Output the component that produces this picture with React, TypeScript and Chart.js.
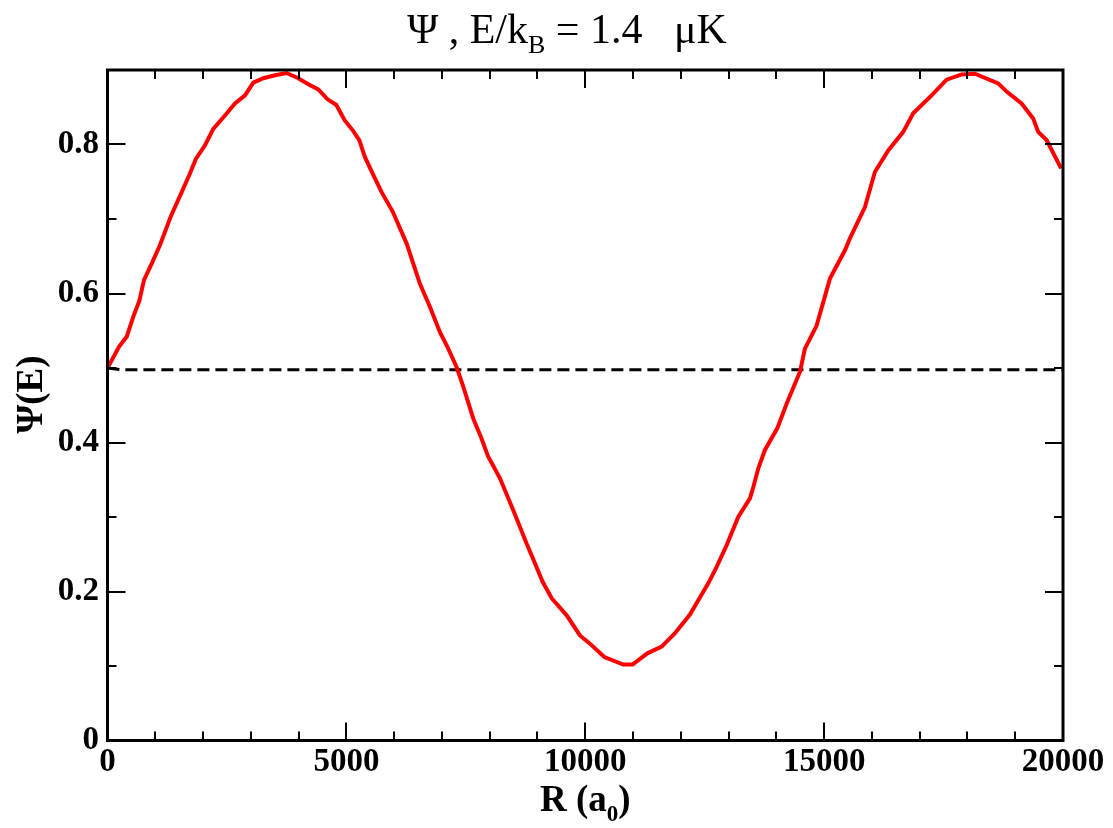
import React, { useEffect, useRef } from "react";
import { Chart, registerables } from "chart.js";

Chart.register(...registerables);

// ---- data ----
const rValues = [
  0, 247, 402, 540, 666, 764, 925, 1099, 1322, 1553, 1712, 1852, 2041, 2214, 2459, 2668, 2878,
  3052, 3261, 3506, 3750, 3993, 4203, 4412, 4600, 4790, 4960, 5145, 5270, 5389, 5550, 5738,
  5969, 6262, 6540, 6750, 6959, 7133, 7308, 7447, 7656, 7831, 7962, 8215, 8493, 8774, 8947,
  9108, 9297, 9611, 9889, 10098, 10400, 10795, 10990, 11300, 11599, 11878, 12191, 12400,
  12575, 12750, 12959, 13202, 13447, 13517, 13621, 13761, 14019, 14215, 14495, 14598, 14843,
  15122, 15436, 15540, 15854, 16063, 16342, 16656, 16865, 17250, 17564, 17878, 18156, 18644,
  18820, 19133, 19376, 19481, 19656, 19960,
];
const psiValues = [
  0.5, 0.529, 0.542, 0.569, 0.59, 0.618, 0.64, 0.665, 0.703, 0.736, 0.759, 0.781, 0.799,
  0.821, 0.839, 0.855, 0.866, 0.883, 0.889, 0.893, 0.896, 0.889, 0.881, 0.874, 0.861, 0.853,
  0.833, 0.818, 0.806, 0.783, 0.761, 0.736, 0.71, 0.667, 0.613, 0.582, 0.548, 0.526, 0.501,
  0.475, 0.432, 0.405, 0.382, 0.352, 0.309, 0.264, 0.238, 0.213, 0.191, 0.168, 0.141, 0.13,
  0.112, 0.102, 0.102, 0.117, 0.126, 0.144, 0.169, 0.192, 0.211, 0.233, 0.262, 0.3, 0.325,
  0.34, 0.365, 0.39, 0.419, 0.452, 0.495, 0.526, 0.557, 0.62, 0.658, 0.674, 0.716, 0.763,
  0.792, 0.817, 0.842, 0.866, 0.887, 0.894, 0.895, 0.882, 0.871, 0.855, 0.835, 0.817, 0.806,
  0.768,
];
const baselineR = [0, 300, 20000];
const baselinePsi = [0.5, 0.4975, 0.4975];

const xMajorTicks = [0, 5000, 10000, 15000, 20000];
const xMinorTicks = [1000, 2000, 3000, 4000, 6000, 7000, 8000, 9000, 11000, 12000, 13000, 14000, 16000, 17000, 18000, 19000];
const yMajorTicks = [0, 0.2, 0.4, 0.6, 0.8];
const yMinorTicks = [0.1, 0.3, 0.5, 0.7];

const titleMain = "Ψ , E/k";
const titleSub = "B";
const titleTail = " = 1.4   μK";
const xLabelMain = "R (a";
const xLabelSub = "0";
const xLabelTail = ")";
const yLabel = "Ψ(E)";

const FONT = '"Liberation Serif", "Times New Roman", serif';

function drawWithSub(
  ctx: CanvasRenderingContext2D,
  parts: { t: string; sub: boolean }[],
  centerX: number,
  baseY: number,
  size: number,
  weight: string,
  subDrop: number
) {
  const mainFont = `${weight} ${size}px ${FONT}`;
  const subFont = `${weight} ${Math.round(size * 0.62)}px ${FONT}`;
  let total = 0;
  const widths = parts.map((p) => {
    ctx.font = p.sub ? subFont : mainFont;
    const w = ctx.measureText(p.t).width;
    total += w;
    return w;
  });
  let x = centerX - total / 2;
  ctx.textAlign = "left";
  ctx.textBaseline = "alphabetic";
  parts.forEach((p, i) => {
    ctx.font = p.sub ? subFont : mainFont;
    ctx.fillText(p.t, x, p.sub ? baseY + subDrop : baseY);
    x += widths[i];
  });
}

const framePlugin = {
  id: "framePlugin",
  afterDraw(chart: any) {
    const { ctx, chartArea } = chart;
    const xs = chart.scales.x;
    const ys = chart.scales.y;
    const { left, right, top, bottom } = chartArea;
    ctx.save();
    ctx.strokeStyle = "#000";
    ctx.fillStyle = "#000";
    // ticks (inward, on four sides)
    ctx.lineWidth = 2;
    const xTick = (v: number, len: number) => {
      const px = Math.round(xs.getPixelForValue(v));
      ctx.beginPath();
      ctx.moveTo(px, bottom);
      ctx.lineTo(px, bottom - len);
      ctx.moveTo(px, top);
      ctx.lineTo(px, top + len);
      ctx.stroke();
    };
    const yTick = (v: number, len: number) => {
      const py = Math.round(ys.getPixelForValue(v));
      ctx.beginPath();
      ctx.moveTo(left, py);
      ctx.lineTo(left + len, py);
      ctx.moveTo(right, py);
      ctx.lineTo(right - len, py);
      ctx.stroke();
    };
    xMajorTicks.forEach((v) => xTick(v, 18));
    xMinorTicks.forEach((v) => xTick(v, 9));
    yMajorTicks.forEach((v) => yTick(v, 18));
    yMinorTicks.forEach((v) => yTick(v, 9));
    // frame
    ctx.lineWidth = 3;
    ctx.strokeRect(left, top, right - left, bottom - top);

    // title
    drawWithSub(
      ctx,
      [
        { t: titleMain, sub: false },
        { t: titleSub, sub: true },
        { t: titleTail, sub: false },
      ],
      567,
      43,
      42,
      "normal",
      10
    );
    // x axis label
    drawWithSub(
      ctx,
      [
        { t: xLabelMain, sub: false },
        { t: xLabelSub, sub: true },
        { t: xLabelTail, sub: false },
      ],
      (left + right) / 2,
      811,
      37,
      "bold",
      10
    );
    // y axis label
    ctx.save();
    ctx.translate(42, 394.5);
    ctx.rotate(-Math.PI / 2);
    ctx.font = `bold 37px ${FONT}`;
    ctx.textAlign = "center";
    ctx.textBaseline = "alphabetic";
    ctx.fillText(yLabel, 0, 0);
    ctx.restore();
    ctx.restore();
  },
};

export default function App() {
  const canvasRef = useRef<HTMLCanvasElement | null>(null);

  useEffect(() => {
    if (!canvasRef.current) return;
    Chart.defaults.font.family = FONT;
    const curve = rValues.map((r, i) => ({ x: r, y: psiValues[i] }));
    const base = baselineR.map((r, i) => ({ x: r, y: baselinePsi[i] }));
    const chart = new Chart(canvasRef.current, {
      type: "line",
      data: {
        datasets: [
          {
            label: "Psi",
            data: curve,
            borderColor: "#ff0000",
            borderWidth: 4,
            pointRadius: 0,
            tension: 0,
            fill: false,
          },
          {
            label: "baseline",
            data: base,
            borderColor: "#000000",
            borderWidth: 3,
            borderDash: [12, 6],
            pointRadius: 0,
            tension: 0,
            fill: false,
          },
        ],
      },
      options: {
        responsive: false,
        animation: false,
        events: [],
        layout: { padding: { left: 0, top: 70, right: 50, bottom: 0 } },
        plugins: {
          legend: { display: false },
          title: { display: false },
          tooltip: { enabled: false },
        },
        scales: {
          x: {
            type: "linear",
            min: 0,
            max: 20000,
            grid: { display: false, drawTicks: false },
            border: { display: false },
            ticks: {
              stepSize: 5000,
              color: "#000",
              font: { size: 33, weight: "bold", family: FONT },
              padding: 2,
              maxRotation: 0,
              autoSkip: false,
              callback: (v: any) => String(v),
            },
            afterFit: (scale: any) => {
              scale.height = 87.5;
            },
          },
          y: {
            type: "linear",
            min: 0,
            max: 0.9,
            grid: { display: false, drawTicks: false },
            border: { display: false },
            ticks: {
              stepSize: 0.2,
              includeBounds: false,
              color: "#000",
              font: { size: 33, weight: "bold", family: FONT },
              padding: 8.5,
              callback: (v: any) => {
                const n = Number(v);
                return n === 0 ? "0" : n.toFixed(1);
              },
            },
            afterFit: (scale: any) => {
              scale.width = 107.5;
            },
          },
        },
      },
      plugins: [framePlugin],
    });
    return () => chart.destroy();
  }, []);

  return (
    <div style={{ position: "absolute", left: 0, top: 0, width: 1113, height: 828, background: "#fff" }}>
      <canvas ref={canvasRef} width={1113} height={828} style={{ display: "block" }} />
    </div>
  );
}
